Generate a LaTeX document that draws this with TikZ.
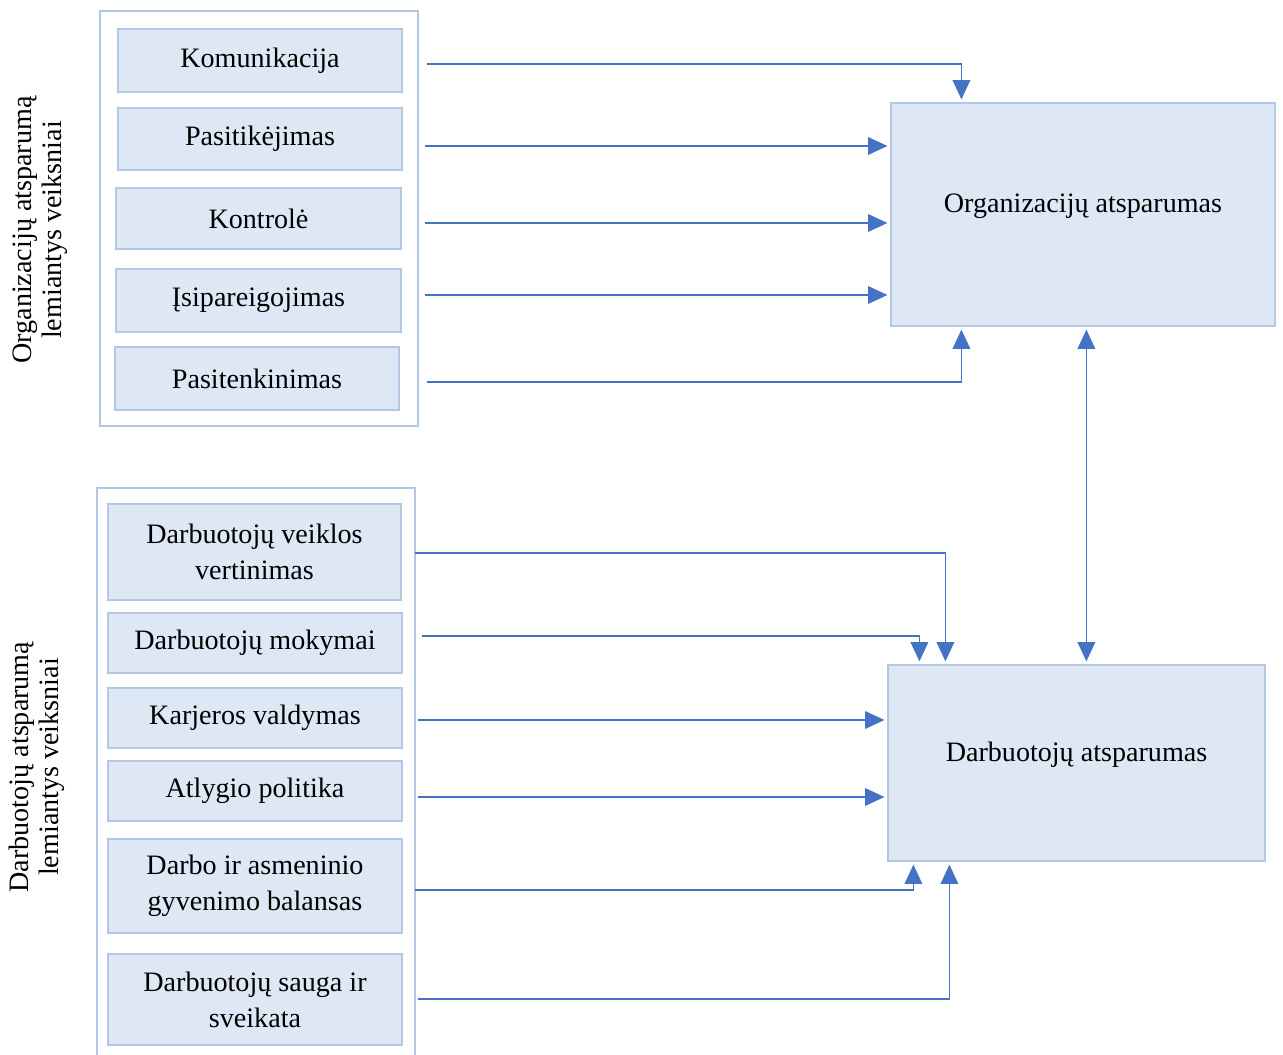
\documentclass[tikz,border=0pt]{standalone}
\usepackage{fontspec}
\setmainfont{Liberation Serif}
\usetikzlibrary{arrows.meta}
\definecolor{boxfill}{HTML}{DEE8F5}
\definecolor{boxline}{HTML}{B4C7E7}
\definecolor{arrcol}{HTML}{4472C4}
\begin{document}
\begin{tikzpicture}[x=0.02cm,y=-0.02cm,
  fbox/.style={draw=boxline, fill=boxfill, line width=0.7pt, rectangle, inner sep=2pt, align=center,
    font=\fontsize{16}{20.5}\selectfont},
  obox/.style={draw=boxline, line width=0.7pt, rectangle, inner sep=0pt},
  side/.style={rotate=90, align=center, font=\fontsize{16}{17}\selectfont},
  arr/.style={draw=arrcol, line width=0.9pt, -{Triangle[length=11pt,width=10pt]}, shorten >=0.06cm},
  biarr/.style={draw=arrcol, line width=0.9pt, {Triangle[length=11pt,width=10pt]}-{Triangle[length=11pt,width=10pt]}, shorten >=0.06cm, shorten <=0.06cm}
]
\path[use as bounding box] (0,0) rectangle (1283,1054);

% outer group boxes
\node[obox, minimum width=6.36cm, minimum height=8.30cm] (gtop) at (259,218.5) {};
\node[obox, minimum width=6.36cm, minimum height=11.44cm] (gbot) at (256,774) {};

% side labels
\node[side] (ltop) at (40,230) {Organizacijų atsparumą\\lemiantys veiksniai};
\node[side] (lbot) at (37,767) {Darbuotojų atsparumą\\lemiantys veiksniai};

% top factors
\node[fbox, minimum width=5.68cm, minimum height=1.26cm] (kom) at (260,60.5) {Komunikacija};
\node[fbox, minimum width=5.68cm, minimum height=1.24cm] (pas) at (260,139) {Pasitikėjimas};
\node[fbox, minimum width=5.70cm, minimum height=1.22cm] (kon) at (258.5,218.5) {Kontrolė};
\node[fbox, minimum width=5.70cm, minimum height=1.26cm] (isi) at (258.5,300.5) {Įsipareigojimas};
\node[fbox, minimum width=5.68cm, minimum height=1.26cm] (pat) at (257,378.5) {Pasitenkinimas};

% bottom factors
\node[fbox, minimum width=5.86cm, minimum height=1.92cm] (dvv) at (254.5,552) {Darbuotojų veiklos\\vertinimas};
\node[fbox, minimum width=5.88cm, minimum height=1.20cm] (dmo) at (255,643) {Darbuotojų mokymai};
\node[fbox, minimum width=5.88cm, minimum height=1.20cm] (kar) at (255,718) {Karjeros valdymas};
\node[fbox, minimum width=5.88cm, minimum height=1.20cm] (atl) at (255,791) {Atlygio politika};
\node[fbox, minimum width=5.88cm, minimum height=1.88cm] (dab) at (255,886) {Darbo ir asmeninio\\gyvenimo balansas};
\node[fbox, minimum width=5.88cm, minimum height=1.82cm] (dsa) at (255,999.5) {Darbuotojų sauga ir\\sveikata};

% targets
\node[fbox, minimum width=7.68cm, minimum height=4.46cm, text depth=0.44cm] (org) at (1083,214.5) {Organizacijų atsparumas};
\node[fbox, minimum width=7.54cm, minimum height=3.92cm, text depth=0.44cm] (dar) at (1076.5,763) {Darbuotojų atsparumas};

% source coordinates
\coordinate (s1) at (427,64);
\coordinate (s2) at (425,146);
\coordinate (s3) at (425,223);
\coordinate (s4) at (425,295);
\coordinate (s5) at (427,382);
\coordinate (b1) at (415,553);
\coordinate (b2) at (422,636);
\coordinate (b3) at (418,720);
\coordinate (b4) at (418,797);
\coordinate (b5) at (415,890);
\coordinate (b6) at (418,999);

% top arrows
\draw[arr] (s1) -| ([xshift=1.42cm]org.north west);
\draw[arr] (s2) -- (s2 -| org.west);
\draw[arr] (s3) -- (s3 -| org.west);
\draw[arr] (s4) -- (s4 -| org.west);
\draw[arr] (s5) -| ([xshift=1.42cm]org.south west);

% between targets
\draw[biarr] ([xshift=3.92cm]org.south west) -- ([xshift=3.92cm]org.south west |- dar.north);

% bottom arrows
\draw[arr] (b1) -| ([xshift=1.16cm]dar.north west);
\draw[arr] (b2) -| ([xshift=0.64cm]dar.north west);
\draw[arr] (b3) -- (b3 -| dar.west);
\draw[arr] (b4) -- (b4 -| dar.west);
\draw[arr] (b5) -| ([xshift=0.52cm]dar.south west);
\draw[arr] (b6) -| ([xshift=1.24cm]dar.south west);
\end{tikzpicture}
\end{document}
